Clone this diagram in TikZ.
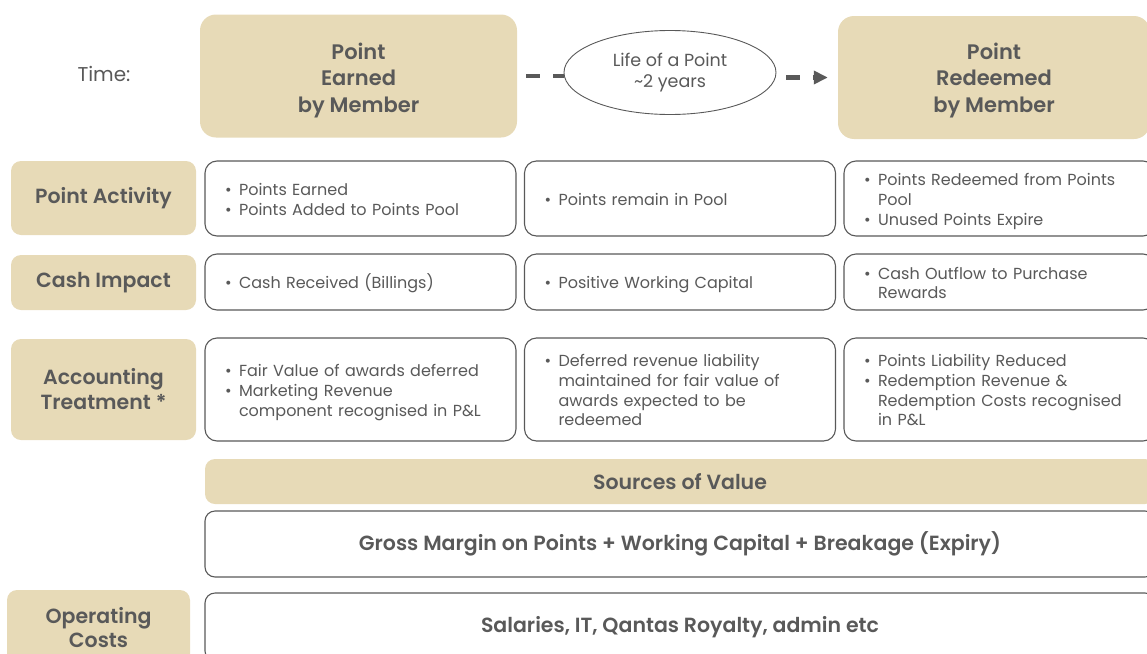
\documentclass[tikz,border=0pt]{standalone}
\usepackage{fontspec}
\IfFontExistsTF{Poppins SemiBold}
  {\setmainfont{Poppins}[BoldFont={Poppins SemiBold}]}
  {\setmainfont{Poppins}}
\usetikzlibrary{shapes.geometric,arrows.meta}
\definecolor{tan}{HTML}{E7DAB7}
\definecolor{ink}{HTML}{595959}
\newcommand{\bitem}[1]{\par\noindent\makebox[14pt][l]{\textbullet}%
  \parbox[t]{\dimexpr\linewidth-14pt}{\raggedright #1\strut}\par\prevdepth=\dp\strutbox}

\begin{document}
\begin{tikzpicture}[x=1pt,y=-1pt,every path/.style={>={Triangle[length=14pt,width=13pt]}},
  every node/.style={text=ink},
  head/.style={fill=tan,rounded corners=16pt,minimum height=123pt,align=center,font=\fontsize{21}{26.5}\selectfont\bfseries},
  rowname/.style={fill=tan,rounded corners=10pt,minimum width=185pt,align=center,font=\fontsize{20.5}{25}\selectfont\bfseries},
  cell/.style={draw=ink,line width=1.1pt,fill=white,rounded corners=12pt,text width=271pt,inner xsep=20pt,align=left,font=\fontsize{16}{19.7}\selectfont},
  wide/.style={rounded corners=10pt,minimum width=950pt,align=center,font=\fontsize{20.5}{24}\selectfont\bfseries},
  dashes/.style={draw=ink,line width=4.5pt,dash pattern=on 14pt off 13pt}]
\useasboundingbox (0,0) rectangle (1147,653);

\node[font=\fontsize{20}{24}\selectfont] (time) at (104,74) {Time:};
\node[head,minimum width=317pt] (earned)   at (358.5,76)   {\rule{0pt}{25pt}Point\\Earned\\by Member};
\node[head,minimum width=312pt] (redeemed) at (994,77.5)   {\rule{0pt}{22pt}Point\\Redeemed\\by Member};
\node[ellipse,draw=ink,line width=0.9pt,minimum width=212pt,minimum height=84pt,align=center,
      font=\fontsize{17.5}{21.5}\selectfont] (life) at (670,72.5) {Life of a Point\\\textasciitilde2 years};
\draw[dashes,dash phase=18pt]                   (earned.east) -- (earned.east -| life.west);
\draw[dashes,dash phase=17pt,->,shorten >=10pt] (life.east |- redeemed.west) -- (redeemed.west);

\node[rowname,minimum height=74pt]  (activity) at (103.5,198)   {Point Activity};
\node[rowname,minimum height=55pt]  (cash)     at (103.5,282.5) {Cash Impact};
\node[rowname,minimum height=101pt] (acct)     at (103.5,389.5) {Accounting\\Treatment *};
\node[rowname,minimum width=183pt,minimum height=75pt,font=\fontsize{20.5}{24}\selectfont\bfseries] (opcost) at (98.5,627.5) {Operating\\Costs};

\node[cell,minimum height=75pt] (act1) at (360.5,198.5) {\bitem{Points Earned}\bitem{Points Added to Points Pool}};
\node[cell,minimum height=75pt] (act2) at (680,198.5)   {\bitem{Points remain in Pool}};
\node[cell,minimum height=75pt] (act3) at (999.5,198.5) {\bitem{Points Redeemed from Points\\Pool}\bitem{Unused Points Expire}};

\node[cell,minimum height=56pt] (cash1) at (360.5,282) {\bitem{Cash Received (Billings)}};
\node[cell,minimum height=56pt] (cash2) at (680,282)   {\bitem{Positive Working Capital}};
\node[cell,minimum height=56pt] (cash3) at (999.5,282) {\bitem{Cash Outflow to Purchase\\Rewards}};

\node[cell,minimum height=103pt] (acct1) at (360.5,389.5) {\bitem{Fair Value of awards deferred}\bitem{Marketing Revenue\\component recognised in P\&L}};
\node[cell,minimum height=103pt] (acct2) at (680,389.5)   {\bitem{Deferred revenue liability\\maintained for fair value of\\awards expected to be\\redeemed}};
\node[cell,minimum height=103pt] (acct3) at (999.5,389.5) {\bitem{Points Liability Reduced}\bitem{Redemption Revenue \&\\Redemption Costs recognised\\in P\&L}};

\node[wide,fill=tan,minimum height=45pt] (sources) at (680,481.5) {Sources of Value};
\node[wide,draw=ink,line width=1.1pt,minimum height=66pt] (value) at (680,544) {Gross Margin on Points + Working Capital + Breakage (Expiry)};
\node[wide,draw=ink,line width=1.1pt,minimum height=68pt] (costs) at (680,627) {Salaries, IT, Qantas Royalty, admin etc};
\end{tikzpicture}
\end{document}
